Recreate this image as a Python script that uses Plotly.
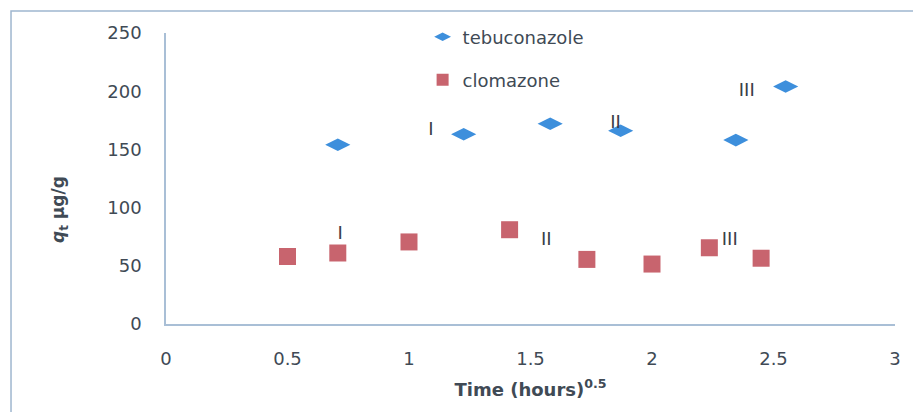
import plotly.graph_objects as go

# Data
tebu_x = [0.707, 1.225, 1.581, 1.871, 2.345, 2.55]
tebu_y = [154, 163, 172, 166, 158, 204]
cloma_x = [0.5, 0.707, 1.0, 1.414, 1.732, 2.0, 2.236, 2.449]
cloma_y = [58, 61, 70.5, 81, 55.5, 51.5, 65.5, 56.5]

label_text = ["I", "II", "III", "I", "II", "III"]
label_x = [1.09, 1.85, 2.39, 0.717, 1.565, 2.32]
label_y = [166, 172, 200, 77, 72, 72]

x_ticks = [0, 0.5, 1, 1.5, 2, 2.5, 3]
x_ticktext = ["0", "0.5", "1", "1.5", "2", "2.5", "3"]
y_ticks = [0, 50, 100, 150, 200, 250]

FONT = "DejaVu Sans"
TXT = "#404a55"
AXC = "#a9bfd6"

fig = go.Figure()
fig.add_trace(go.Scatter(
    x=tebu_x, y=tebu_y, mode="markers", name="tebuconazole", legend="legend",
    marker=dict(symbol="diamond-wide", size=18, color="#3d8fdc"),
))
fig.add_trace(go.Scatter(
    x=cloma_x, y=cloma_y, mode="markers", name="clomazone", legend="legend2",
    marker=dict(symbol="square", size=17, color="#c8646e"),
))
fig.add_trace(go.Scatter(
    x=label_x, y=label_y, mode="text", text=label_text, showlegend=False,
    textfont=dict(family=FONT, size=18, color="#3a3f48"),
    hoverinfo="skip",
))

leg_common = dict(
    xanchor="left", yanchor="middle", bgcolor="rgba(0,0,0,0)",
    font=dict(family=FONT, size=18, color=TXT), itemsizing="constant",
)

# The page body has an 8px default margin; the figure is sized to fit inside it.
fig.update_layout(
    width=913, height=404,
    margin=dict(l=158, r=26, t=25, b=88, autoexpand=False),
    paper_bgcolor="white", plot_bgcolor="white",
    font=dict(family=FONT, size=17, color=TXT),
    legend=dict(x=0.352, y=0.986, **leg_common),
    legend2=dict(x=0.352, y=0.838, **leg_common),
    xaxis=dict(
        range=[0, 3], tickvals=x_ticks, ticktext=x_ticktext,
        showgrid=False, zeroline=False, showline=True, linecolor=AXC, linewidth=1.5,
        ticks="", ticklabelstandoff=18,
        tickfont=dict(family=FONT, size=18, color=TXT),
        title=dict(text="<b>Time (hours)<sup>0.5</sup></b>", standoff=15,
                   font=dict(family=FONT, size=18, color=TXT)),
    ),
    yaxis=dict(
        range=[0, 250], tickvals=y_ticks,
        showgrid=False, zeroline=False, showline=True, linecolor=AXC, linewidth=1.5,
        ticks="", ticklabelstandoff=19,
        tickfont=dict(family=FONT, size=18, color=TXT),
    ),
    annotations=[dict(
        text="<b><i>q</i><sub>t</sub> μg/g</b>", textangle=-90,
        xref="paper", yref="paper", x=-0.1454, y=0.392,
        xanchor="center", yanchor="middle", showarrow=False,
        font=dict(family=FONT, size=17, color=TXT),
    )],
    shapes=[dict(type="rect", xref="paper", yref="paper",
                 x0=-0.2126, x1=1.1, y0=-0.35, y1=1.0756,
                 line=dict(color="#9fb6cf", width=1.5), fillcolor="rgba(0,0,0,0)")],
)

fig.write_html("out.html")
